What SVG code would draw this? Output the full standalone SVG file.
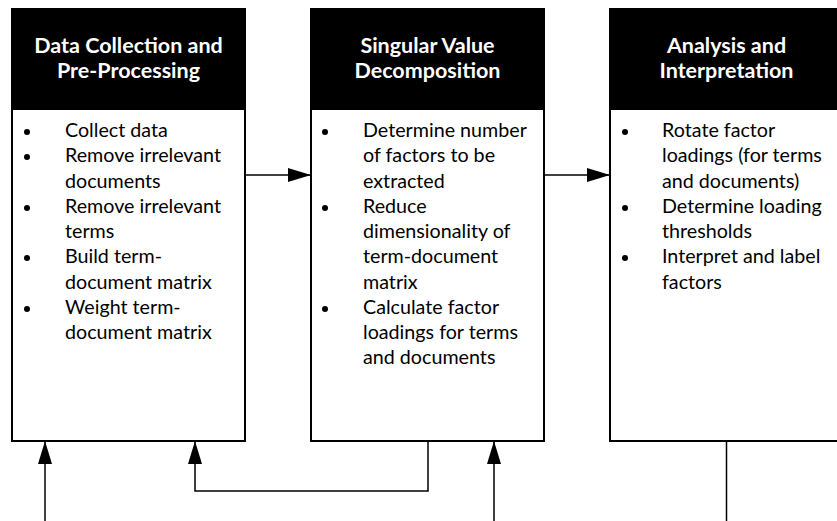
<svg xmlns="http://www.w3.org/2000/svg" width="837" height="521" viewBox="0 0 837 521">
<defs>
<style>
.box{fill:#fff;stroke:#000;stroke-width:2}
.hdr{fill:#000}
.ht{font-family:Lato,"Open Sans","Liberation Sans",sans-serif;font-weight:bold;font-size:21.5px;fill:#fff;text-anchor:middle}
.bt{font-family:Lato,"Open Sans","Liberation Sans",sans-serif;font-size:19.7px;fill:#000}
.bul{fill:#000}
.ln{fill:none;stroke:#000;stroke-width:1.5}
</style>
<marker id="ah" markerWidth="23" markerHeight="14" refX="23" refY="7" orient="auto" markerUnits="userSpaceOnUse">
<path d="M0,0 L23,7 L0,14 Z" fill="#000"/>
</marker>
</defs>
<g id="connectors">
<line class="ln" x1="245" y1="175" x2="311" y2="175" marker-end="url(#ah)"/>
<line class="ln" x1="544" y1="175" x2="610" y2="175" marker-end="url(#ah)"/>
<line class="ln" x1="45" y1="521" x2="45" y2="441" marker-end="url(#ah)"/>
<polyline class="ln" points="428,441 428,491 195,491 195,441" marker-end="url(#ah)"/>
<line class="ln" x1="494" y1="521" x2="494" y2="441" marker-end="url(#ah)"/>
<line class="ln" x1="726.5" y1="441" x2="726.5" y2="521"/>
</g>
<g id="node1">
<rect class="box" x="12" y="9" width="233" height="432"/>
<rect class="hdr" x="12" y="9" width="233" height="101"/>
<text class="ht" x="128.5" y="53">Data Collection and</text>
<text class="ht" x="128.5" y="78">Pre-Processing</text>
<circle class="bul" cx="27" cy="132" r="3"/>
<circle class="bul" cx="27" cy="157" r="3"/>
<circle class="bul" cx="27" cy="208" r="3"/>
<circle class="bul" cx="27" cy="258" r="3"/>
<circle class="bul" cx="27" cy="309" r="3"/>
<text class="bt" x="65" y="137">Collect data</text>
<text class="bt" x="65" y="162">Remove irrelevant</text>
<text class="bt" x="65" y="188">documents</text>
<text class="bt" x="65" y="213">Remove irrelevant</text>
<text class="bt" x="65" y="238">terms</text>
<text class="bt" x="65" y="263">Build term-</text>
<text class="bt" x="65" y="289">document matrix</text>
<text class="bt" x="65" y="314">Weight term-</text>
<text class="bt" x="65" y="339">document matrix</text>
</g>
<g id="node2">
<rect class="box" x="311" y="9" width="233" height="432"/>
<rect class="hdr" x="311" y="9" width="233" height="101"/>
<text class="ht" x="427.5" y="53">Singular Value</text>
<text class="ht" x="427.5" y="78">Decomposition</text>
<circle class="bul" cx="325" cy="132" r="3"/>
<circle class="bul" cx="325" cy="208" r="3"/>
<circle class="bul" cx="325" cy="309" r="3"/>
<text class="bt" x="363" y="137">Determine number</text>
<text class="bt" x="363" y="162">of factors to be</text>
<text class="bt" x="363" y="188">extracted</text>
<text class="bt" x="363" y="213">Reduce</text>
<text class="bt" x="363" y="238">dimensionality of</text>
<text class="bt" x="363" y="263">term-document</text>
<text class="bt" x="363" y="289">matrix</text>
<text class="bt" x="363" y="314">Calculate factor</text>
<text class="bt" x="363" y="339">loadings for terms</text>
<text class="bt" x="363" y="364">and documents</text>
</g>
<g id="node3">
<rect class="box" x="610" y="9" width="233" height="432"/>
<rect class="hdr" x="610" y="9" width="233" height="101"/>
<text class="ht" x="726.5" y="53">Analysis and</text>
<text class="ht" x="726.5" y="78">Interpretation</text>
<circle class="bul" cx="625" cy="132" r="3"/>
<circle class="bul" cx="625" cy="208" r="3"/>
<circle class="bul" cx="625" cy="258" r="3"/>
<text class="bt" x="662" y="137">Rotate factor</text>
<text class="bt" x="662" y="162">loadings (for terms</text>
<text class="bt" x="662" y="188">and documents)</text>
<text class="bt" x="662" y="213">Determine loading</text>
<text class="bt" x="662" y="238">thresholds</text>
<text class="bt" x="662" y="263">Interpret and label</text>
<text class="bt" x="662" y="289">factors</text>
</g>
</svg>
